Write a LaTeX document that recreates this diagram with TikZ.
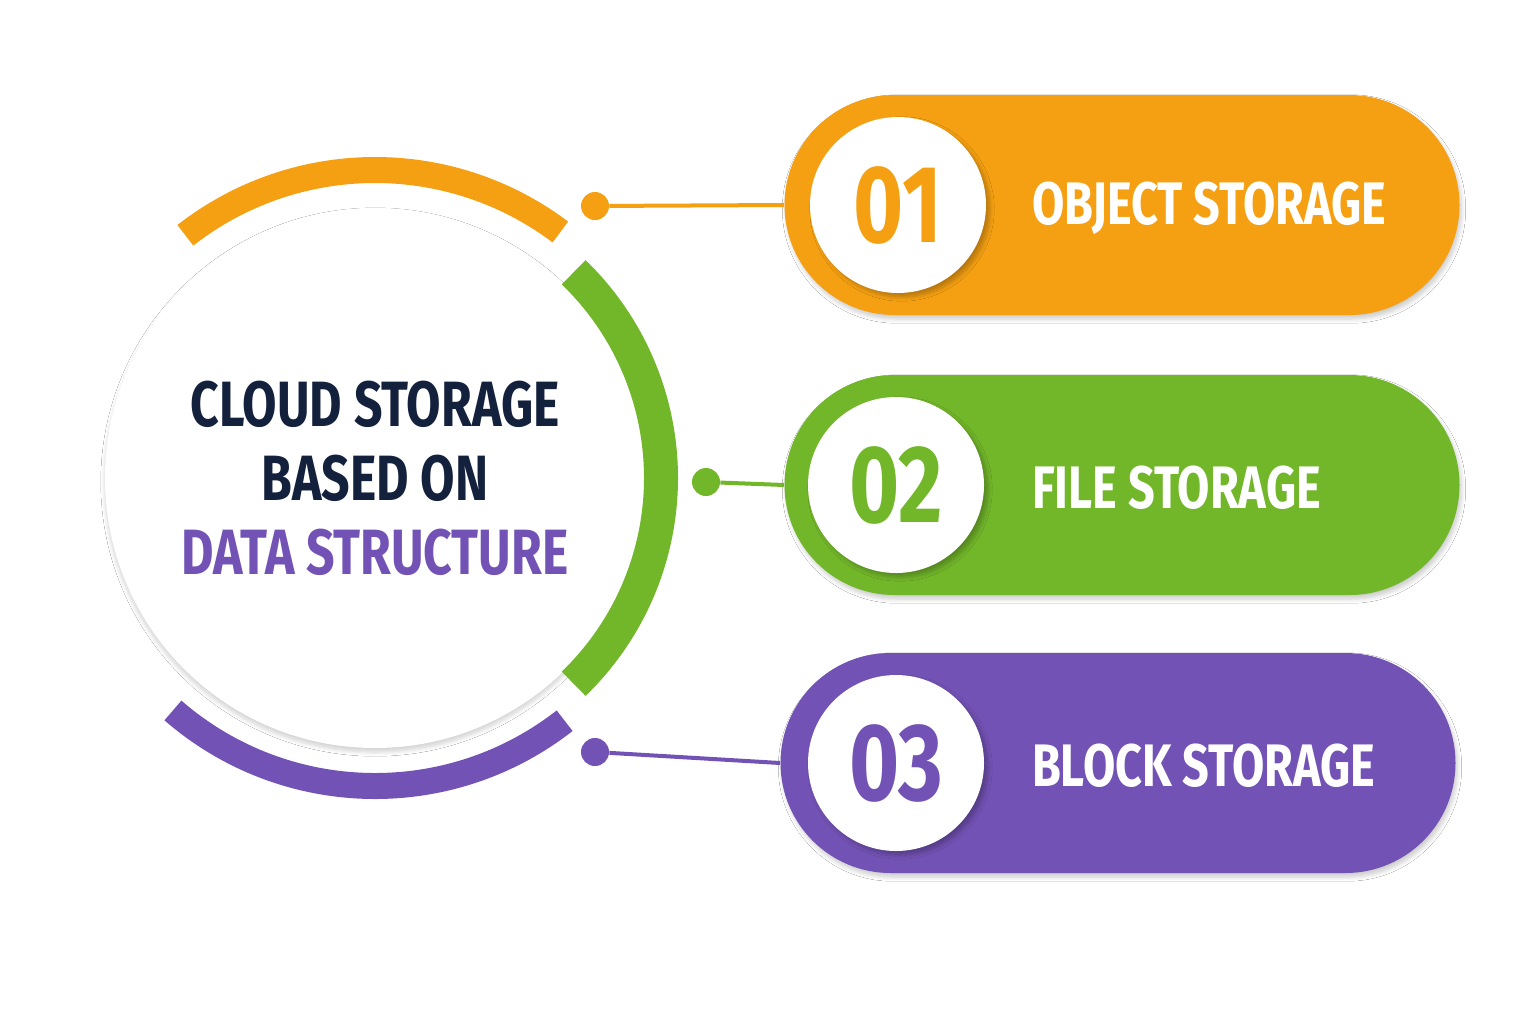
\documentclass[tikz,border=0pt]{standalone}
\usepackage{fontspec}
\setmainfont{Fira Sans}
\newfontfamily\condfont{Fira Sans}[FakeStretch=0.78,UprightFont=* Bold]
\usetikzlibrary{positioning,shadows.blur,calc}
\definecolor{cOrange}{HTML}{F5A012}
\definecolor{cGreen}{HTML}{72B62A}
\definecolor{cPurple}{HTML}{7352B5}
\definecolor{cNavy}{HTML}{14213D}
\tikzset{
  pill/.style={rectangle, rounded corners=55pt, minimum width=337.5pt, minimum height=110pt, blur shadow={shadow blur steps=6, shadow xshift=1pt, shadow yshift=-2pt, shadow opacity=20}},
  numdisc/.style={circle, fill=white, minimum size=88pt, text=#1, font=\condfont\fontsize{55}{55}\selectfont, blur shadow={shadow blur steps=6, shadow xshift=2pt, shadow yshift=-2pt, shadow opacity=25}},
  pilltext/.style={text=white, font=\condfont\fontsize{30}{30}\selectfont, anchor=west},
  dot/.style={circle, fill=#1, minimum size=14pt, inner sep=0pt},
  link/.style={draw=#1, line width=2pt},
  ring/.style={draw=#1, line width=13pt},
}
\begin{document}
\begin{tikzpicture}[x=0.5pt,y=-0.5pt]
  \useasboundingbox (0,0) rectangle (1536,1024);
  \fill[white] (0,0) rectangle (1536,1024);

  % hub
  \node (hub) [circle, fill=white, minimum size=270pt, blur shadow={shadow blur steps=8, shadow xshift=0pt, shadow yshift=-2pt, shadow opacity=18}] at (375,478) {};
  \node [align=center, font=\condfont\fontsize{32}{37}\selectfont, text=cNavy] at (hub.center) {CLOUD STORAGE\\BASED ON\\\textcolor{cPurple}{DATA STRUCTURE}};
  \draw[ring=cOrange] (hub.center) ++(53:154pt) arc[start angle=53, end angle=128, radius=154pt];
  \draw[ring=cGreen, line width=17pt] (hub.center) ++(46:143pt) arc[start angle=46, end angle=-46, radius=143pt];
  \draw[ring=cPurple] (hub.center) ++(229:154pt) arc[start angle=229, end angle=308, radius=154pt];

  % connectors
  \node (d1) [dot=cOrange] at (595,206) {};
  \node (d2) [dot=cGreen] at (706,482) {};
  \node (d3) [dot=cPurple] at (595,752) {};

  % pills
  \node (p1) [pill, fill=cOrange] at (1122,205) {};
  \node (p2) [pill, fill=cGreen] at (1122,485) {};
  \node (p3) [pill, fill=cPurple] at (1118,763) {};
  \draw[link=cOrange] (d1) -- (p1.west);
  \draw[link=cGreen] (d2) -- (p2.west);
  \draw[link=cPurple] (d3) -- (p3.west);

  \node (n1) [numdisc=cOrange] at (898,205) {01};
  \node (n2) [numdisc=cGreen] at (896,485) {02};
  \node (n3) [numdisc=cPurple] at (896,763) {03};

  \node [pilltext] at (1025,208) {OBJECT STORAGE};
  \node [pilltext] at (1025,488) {FILE STORAGE};
  \node [pilltext] at (1025,766) {BLOCK STORAGE};
\end{tikzpicture}
\end{document}
